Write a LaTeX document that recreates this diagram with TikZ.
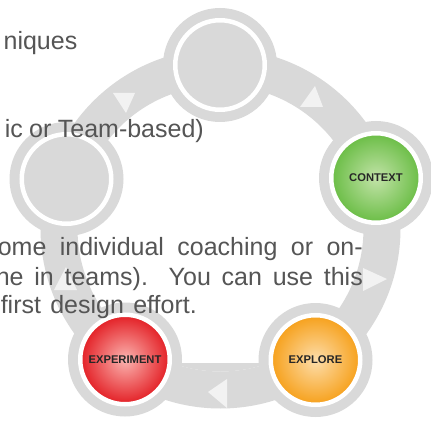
\documentclass[tikz,border=0pt]{standalone}
\usepackage{fontspec}
\setmainfont{Liberation Sans}
\begin{document}
\begin{tikzpicture}[x=1pt,y=1pt]
\definecolor{ringgray}{HTML}{D9D9D9}
\definecolor{tri}{HTML}{F2F2F2}
\definecolor{txt}{HTML}{555555}
\definecolor{lbl}{HTML}{262626}
\definecolor{gOut}{HTML}{6ABD45}
\definecolor{gIn}{HTML}{C2E3A8}
\definecolor{rOut}{HTML}{E31E24}
\definecolor{rIn}{HTML}{FBB4B0}
\definecolor{oOut}{HTML}{F6A01A}
\definecolor{oIn}{HTML}{FDDDAA}
\tikzset{
  halo/.style={circle, fill=ringgray, minimum size=114pt, inner sep=0pt},
  disc/.style={circle, draw=white, line width=4.5pt, minimum size=89.5pt, inner sep=0pt,
    font=\bfseries\fontsize{11.2}{13}\selectfont, text=lbl},
  body/.style={inner sep=0pt, text=txt, font=\fontsize{25}{30}\selectfont},
  arrowtri/.style={fill=tri}
}
\clip (0,0) rectangle (431,421);
\fill[white] (0,0) rectangle (431,421);
\coordinate (C) at (220.5,192.5);
% ring
\fill[ringgray, even odd rule] (C) circle (180) (C) circle (143);
\begin{scope}
  \clip (C) circle (143);
  \fill[ringgray] (125,0) rectangle (316,58);
\end{scope}
% halos
\node[halo] (hT) at (220,356) {};
\node[halo] (hK) at (376,243) {};
\node[halo] (hX) at (315.5,61) {};
\node[halo] (hE) at (125,61.5) {};
\node[halo] (hL) at (66.5,242) {};
% direction triangles
\fill[arrowtri] (113,328) -- (135,328) -- (126,308) -- cycle;
\fill[arrowtri] (315,335) -- (300,314) -- (323,314) -- cycle;
\fill[arrowtri] (363,153) -- (363,130) -- (387,142) -- cycle;
\fill[arrowtri] (208,29) -- (227,42) -- (227,13) -- cycle;
\fill[arrowtri] (66,154) -- (54,131) -- (77,131) -- cycle;
% discs
\node[disc, fill=ringgray] (T) at (hT) {};
\node[disc, fill=ringgray] (L) at (hL) {};
\node[disc, inner color=gIn, outer color=gOut] (K) at (hK) {CONTEXT};
\node[disc, inner color=oIn, outer color=oOut] (X) at (hX) {EXPLORE};
\node[disc, inner color=rIn, outer color=rOut] (E) at (hE) {EXPERIMENT};
% text (drawn over the diagram)
\node[body, anchor=base east] (t1) at (77.5,371) {niques};
\node[body, anchor=base east] (t2) at (204,283) {\makebox[199pt][s]{ic or Team-based)}};
\node[body, anchor=base east] (t3) at (363,166) {\makebox[365pt][s]{ome individual coaching or on-}};
\node[body, anchor=base east] (t4) at (363,136) {\makebox[367pt][s]{ne in teams). You can use this}};
\node[body, anchor=base east] (t5) at (197,108) {\makebox[196pt][s]{first design effort.}};
\end{tikzpicture}
\end{document}
